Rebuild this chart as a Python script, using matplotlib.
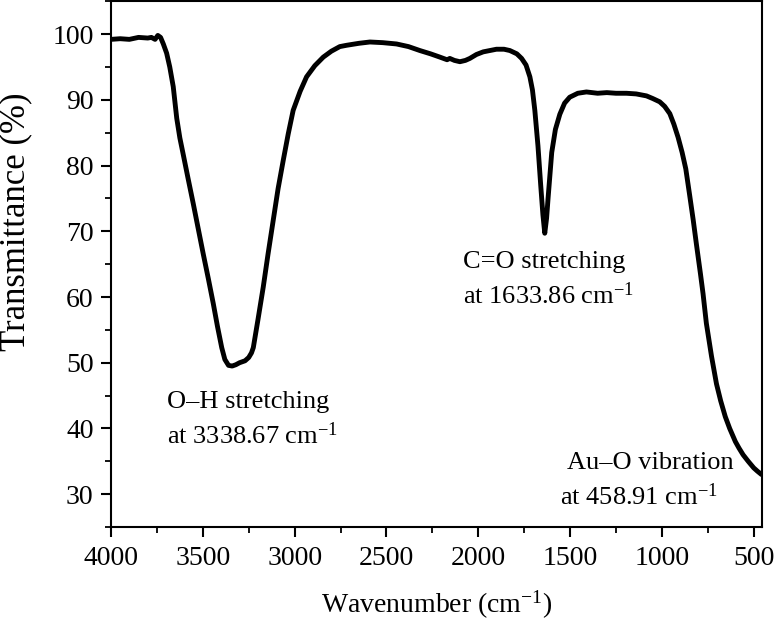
import matplotlib
matplotlib.use("Agg")
import matplotlib.pyplot as plt
from matplotlib.ticker import MultipleLocator

plt.rcParams['font.family'] = ['Liberation Serif', 'DejaVu Serif']
plt.rcParams['mathtext.fontset'] = 'custom'
plt.rcParams['mathtext.rm'] = 'Liberation Serif'
plt.rcParams['mathtext.it'] = 'Liberation Serif:italic'

# FTIR spectrum
wavenumber = [4000, 3950, 3900, 3850, 3800, 3780, 3760, 3745, 3730, 3715,
              3697, 3680, 3661, 3642, 3625, 3606, 3580, 3552, 3525, 3498,
              3470, 3443, 3420, 3397, 3380, 3360, 3340, 3320, 3300, 3270,
              3250, 3235, 3225, 3200, 3171, 3145, 3117, 3090, 3062, 3035,
              3008, 2970, 2935, 2890, 2844, 2800, 2754, 2717, 2650, 2590,
              2520, 2445, 2380, 2318, 2260, 2209, 2170, 2155, 2130, 2100,
              2070, 2046, 2010, 1973, 1901, 1860, 1828, 1790, 1764, 1740,
              1719, 1705, 1692, 1675, 1660, 1648, 1638, 1628, 1620, 1600,
              1580, 1556, 1530, 1502, 1458, 1411, 1350, 1300, 1250, 1193,
              1140, 1084, 1050, 1012, 985, 957, 935, 912, 890, 870,
              849, 830, 812, 790, 776, 758, 730, 703, 680, 655,
              631, 600, 580, 558, 530, 500, 480, 458]
transmittance = [99.2, 99.3, 99.2, 99.5, 99.4, 99.5, 99.2, 99.8, 99.5, 98.5,
                 97.1, 95.0, 92.0, 87.2, 84.2, 81.6, 78.0, 74.2, 70.4, 66.6,
                 62.8, 59.0, 55.5, 52.3, 50.5, 49.6, 49.5, 49.7, 50.0, 50.3,
                 50.8, 51.5, 52.3, 56.5, 61.5, 66.5, 71.6, 76.5, 80.8, 84.8,
                 88.4, 91.3, 93.5, 95.2, 96.5, 97.4, 98.1, 98.3, 98.6, 98.8,
                 98.7, 98.5, 98.1, 97.5, 97.0, 96.5, 96.1, 96.3, 96.0, 95.8,
                 96.0, 96.3, 96.9, 97.3, 97.7, 97.7, 97.5, 97.0, 96.3, 95.3,
                 93.5, 91.5, 88.4, 83.0, 77.0, 72.5, 69.7, 72.0, 75.0, 82.0,
                 85.5, 87.8, 89.5, 90.4, 91.0, 91.2, 91.0, 91.1, 91.0, 91.0,
                 90.9, 90.6, 90.2, 89.7, 89.0, 87.9, 86.3, 84.3, 82.0, 79.5,
                 75.5, 71.8, 68.0, 63.5, 60.5, 56.0, 51.0, 46.8, 44.2, 41.8,
                 40.0, 38.0, 37.0, 36.0, 35.0, 34.0, 33.5, 33.0]

fig = plt.figure(figsize=(7.74, 6.23), dpi=100)
ax = fig.add_axes([0.1434, 0.154, 0.8411, 0.844])
ax.plot(wavenumber, transmittance, color='black', linewidth=3.5,
        solid_joinstyle='round', solid_capstyle='round')

ax.set_xlim(4000, 455)
ax.set_ylim(25, 105)
ax.xaxis.set_major_locator(MultipleLocator(500))
ax.xaxis.set_minor_locator(MultipleLocator(250))
ax.yaxis.set_major_locator(MultipleLocator(10))
ax.yaxis.set_minor_locator(MultipleLocator(5))
ax.set_yticks(range(30, 101, 10))

for sp in ax.spines.values():
    sp.set_linewidth(1.5)
ax.tick_params(which='major', length=7.5, width=1.5, labelsize=20, direction='out')
ax.tick_params(axis='x', which='major', pad=6)
ax.tick_params(axis='y', which='major', pad=5)
ax.tick_params(which='minor', length=4, width=1.3, direction='out')

ax.set_xlabel('Wavenumber (cm$^{-1}$)', fontsize=20, va='center')
ax.xaxis.set_label_coords(0.5, -0.148)
ax.set_ylabel('Transmittance (%)', fontsize=25, va='center')
ax.yaxis.set_label_coords(-0.146, 0.58)

fs = 19
ax.text(3695, 44.1, 'O\u2013H stretching', fontsize=fs, va='center', ha='left')
ax.text(3695, 38.9, 'at 3338.67 cm$^{-1}$', fontsize=fs, va='center', ha='left')
ax.text(2084, 65.3, 'C=O stretching', fontsize=fs, va='center', ha='left')
ax.text(2084, 60.2, 'at 1633.86 cm$^{-1}$', fontsize=fs, va='center', ha='left')
ax.text(1518, 34.8, 'Au\u2013O vibration', fontsize=fs, va='center', ha='left')
ax.text(1556, 29.7, 'at 458.91 cm$^{-1}$', fontsize=fs, va='center', ha='left')

fig.savefig('out.png', dpi=100)
